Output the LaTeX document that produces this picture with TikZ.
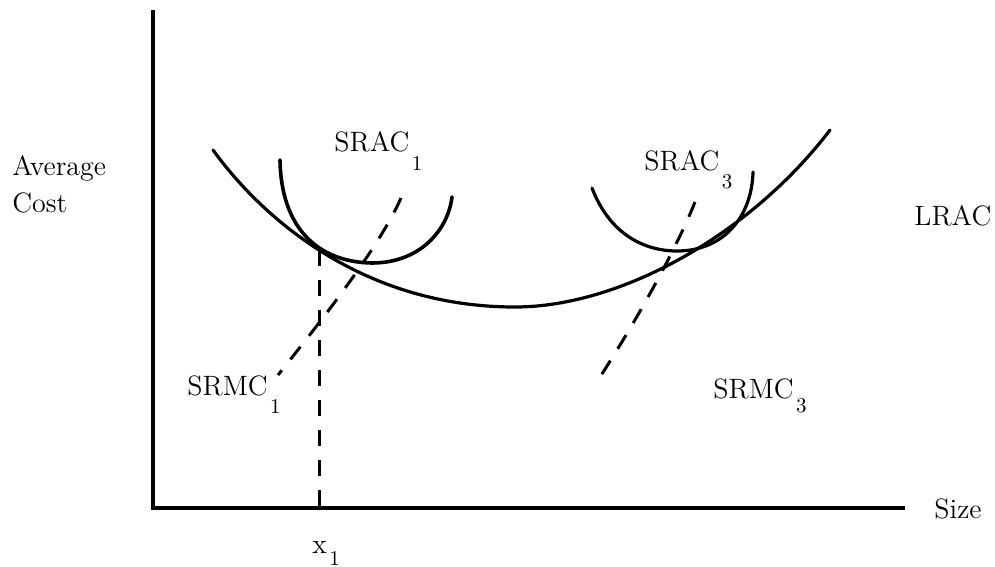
\documentclass[tikz,border=0pt]{standalone}
\usetikzlibrary{positioning}

\newcommand{\lsub}[2][9pt]{\kern1.2pt\raisebox{-#1}{\fontsize{10.5}{12}\selectfont #2}}

\begin{document}
\begin{tikzpicture}[x=0.5pt,y=-0.5pt,
  axis/.style={line width=2.2pt},
  costcurve/.style={line width=1.6pt, line cap=round},
  mccurve/.style={line width=1.5pt, dash pattern=on 8pt off 7pt},
  lbl/.style={font=\fontsize{14}{16}\selectfont, inner sep=0pt, anchor=base west}]
\useasboundingbox (0,0) rectangle (995,567);
% axes
\coordinate (top) at (153,10);
\coordinate (origin) at (153,508);
\coordinate (right) at (905,508);
\draw[axis] (top) -- (origin) -- (right);
% long run curve
\coordinate (lmin) at (515,307);
\draw[costcurve] (213,150) .. controls (260,215) and (360,307) .. (lmin)
  .. controls (620,307) and (750,235) .. (830,130);
% short run curves
\coordinate (min1) at (372,263);
\coordinate (min3) at (677,251);
\draw[costcurve, line width=1.8pt] (280,160) .. controls (281,225) and (315,262) .. (min1)
  .. controls (420,263) and (448,230) .. (452,197);
\draw[costcurve] (592,188) .. controls (610,235) and (645,251) .. (min3)
  .. controls (725,251) and (752,215) .. (753,172);
% marginal cost curves
\draw[mccurve] (401,198) .. controls (380,245) and (330,310) .. (278,375);
\draw[mccurve] (695,202) .. controls (678,245) and (640,315) .. (600,377);
% output level
\coordinate (tan1) at (319,250);
\coordinate (foot1) at (319,508);
\draw[mccurve] (tan1) -- (foot1);
% labels
\node[lbl] (avg) at (12,175) {Average};
\node[lbl] (cost) at (12,212) {Cost};
\node[lbl] (srac1) at (334,151) {SRAC\lsub[9.5pt]{1}};
\node[lbl] (srac3) at (644,170) {SRAC\lsub{3}};
\node[lbl] (lrac) at (914,225) {LRAC};
\node[lbl] (srmc1) at (187,395) {SRMC\lsub{1}};
\node[lbl] (srmc3) at (713,398) {SRMC\lsub[7pt]{3}};
\node[lbl] (size) at (934,518) {Size};
\node[lbl] (xone) at (312,553) {x\lsub[6pt]{1}};
\end{tikzpicture}
\end{document}
